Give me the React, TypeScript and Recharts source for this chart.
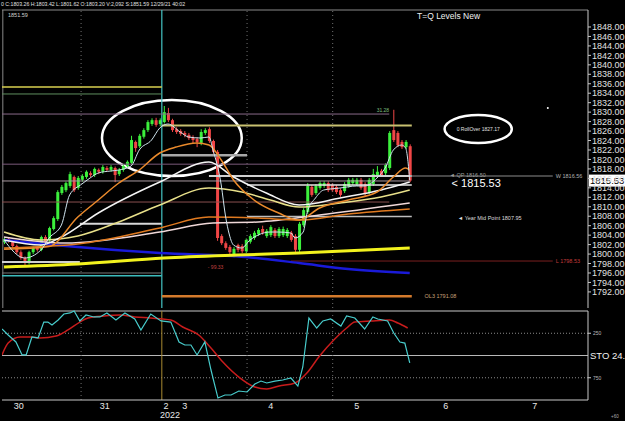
import React from 'react'
import {
  Bar,
  ComposedChart,
  Line,
  ReferenceArea,
  ReferenceDot,
  ReferenceLine,
  XAxis,
  YAxis,
} from 'recharts'

const FONT = '"Liberation Sans", Arial, sans-serif'
const GREEN = '#3cf03c'
const RED = '#f04646'

// x = hourly bar number, the empty right part is future time
const X_DOMAIN: [number, number] = [-0.5, 142.5]
const PRICE_DOMAIN: [number, number] = [1788.6, 1851.59]
const LAST_PRICE = 1815.53

const priceTicks = [
  1792, 1794, 1796, 1798, 1800, 1802, 1804, 1806, 1808, 1810, 1812, 1814, 1816, 1818, 1820,
  1822, 1824, 1826, 1828, 1830, 1832, 1834, 1836, 1838, 1840, 1842, 1844, 1846, 1848,
]
const dayTicks = [3.6, 24.6, 39.5, 44.1, 65.1, 86.1, 107.8, 129.5]
const dayLabels = ['30', '31', '2', '3', '4', '5', '6', '7']
const gridLines = [18.8, 59.3, 80.2]
const yearLine = 38.5

const opens = [
  1802.5, 1803.2, 1802.8, 1801.7, 1800.4, 1799.2, 1798.3, 1800.4, 1801.3, 1800.9,
  1803.6, 1802.9, 1805.3, 1807.4, 1812.9, 1813.5, 1814.4, 1816.3, 1814.0, 1815.7,
  1816.3, 1817.1, 1816.7, 1817.8, 1817.4, 1818.2, 1817.8, 1818.2, 1816.9, 1817.8,
  1818.6, 1819.3, 1823.7, 1822.8, 1824.8, 1826.2, 1827.5, 1828.3, 1827.5, 1827.9,
  1829.8, 1828.3, 1826.4, 1826.0, 1825.6, 1825.2, 1824.7, 1824.3, 1823.5, 1825.6,
  1826.4, 1823.9, 1821.6, 1803.8, 1802.3, 1801.5, 1800.0, 1801.9, 1801.7, 1800.6,
  1802.6, 1803.4, 1804.2, 1805.3, 1803.8, 1804.0, 1805.1, 1803.8, 1804.0, 1803.8,
  1804.5, 1803.8, 1800.9, 1806.1, 1808.9, 1814.2, 1812.9, 1814.0, 1814.4, 1815.0,
  1814.6, 1814.2, 1813.5, 1813.3, 1814.4, 1815.0, 1814.8, 1815.7, 1814.8, 1813.1,
  1814.8, 1816.5, 1817.6, 1817.1, 1818.2, 1826.2, 1825.6, 1823.7, 1822.6, 1822.8,
]
const highs = [
  1803.6, 1803.5, 1803.0, 1802.0, 1800.8, 1799.5, 1800.7, 1801.6, 1801.7, 1803.9,
  1804.0, 1805.8, 1808.0, 1813.5, 1814.6, 1815.3, 1817.4, 1816.6, 1816.5, 1816.9,
  1817.7, 1817.5, 1818.3, 1818.1, 1818.8, 1818.6, 1818.8, 1818.5, 1818.2, 1819.0,
  1819.8, 1825.0, 1824.0, 1825.4, 1826.6, 1828.3, 1828.7, 1828.8, 1828.7, 1831.3,
  1830.9, 1828.6, 1826.8, 1826.4, 1826.0, 1825.6, 1825.1, 1824.7, 1826.4, 1826.6,
  1826.8, 1824.2, 1822.0, 1804.2, 1802.7, 1801.9, 1801.5, 1802.2, 1802.1, 1803.3,
  1804.2, 1804.9, 1805.5, 1806.0, 1805.3, 1806.1, 1805.5, 1805.7, 1805.8, 1805.5,
  1804.9, 1804.2, 1806.8, 1809.7, 1815.0, 1814.6, 1814.8, 1815.4, 1815.4, 1815.4,
  1815.0, 1814.6, 1813.9, 1815.2, 1816.1, 1816.1, 1816.1, 1816.1, 1815.2, 1816.1,
  1818.0, 1818.6, 1818.0, 1819.2, 1826.0, 1830.5, 1826.0, 1824.1, 1824.1, 1823.2,
]
const lows = [
  1802.1, 1802.4, 1801.4, 1800.0, 1798.8, 1797.5, 1797.8, 1800.0, 1800.5, 1800.6,
  1802.2, 1802.5, 1805.0, 1807.0, 1812.5, 1813.1, 1814.0, 1813.1, 1813.6, 1815.3,
  1815.9, 1816.3, 1816.3, 1816.9, 1817.0, 1817.4, 1817.4, 1815.2, 1816.5, 1817.4,
  1818.2, 1819.0, 1821.6, 1822.4, 1824.4, 1825.8, 1827.1, 1826.9, 1827.0, 1827.6,
  1827.9, 1825.8, 1825.4, 1825.0, 1824.7, 1824.1, 1823.4, 1822.6, 1823.0, 1825.2,
  1823.5, 1821.2, 1802.8, 1801.9, 1800.9, 1799.8, 1799.33, 1800.4, 1800.2, 1800.2,
  1802.2, 1803.0, 1803.8, 1804.1, 1803.4, 1803.6, 1803.4, 1803.4, 1803.6, 1803.4,
  1802.6, 1800.0, 1800.4, 1805.7, 1808.5, 1812.1, 1812.5, 1813.6, 1814.0, 1813.1,
  1813.1, 1812.7, 1812.1, 1812.9, 1814.0, 1814.6, 1814.4, 1813.6, 1812.3, 1812.7,
  1814.4, 1816.1, 1816.3, 1816.7, 1817.8, 1823.7, 1822.6, 1822.2, 1822.2, 1815.2,
]
const closes = [
  1803.2, 1802.8, 1801.7, 1800.4, 1799.2, 1798.3, 1800.4, 1801.3, 1800.9, 1803.6,
  1802.6, 1805.5, 1807.6, 1813.1, 1814.2, 1815.0, 1816.9, 1813.5, 1816.1, 1816.5,
  1817.4, 1816.7, 1818.0, 1817.4, 1818.4, 1817.8, 1818.4, 1816.7, 1817.8, 1818.6,
  1819.5, 1824.1, 1822.4, 1825.0, 1826.2, 1827.9, 1828.3, 1827.3, 1828.3, 1830.0,
  1828.3, 1826.2, 1825.8, 1825.4, 1825.2, 1824.5, 1824.1, 1823.7, 1825.8, 1826.2,
  1823.9, 1821.6, 1803.4, 1802.3, 1801.3, 1800.4, 1801.1, 1800.9, 1800.6, 1803.0,
  1803.8, 1804.5, 1805.1, 1804.5, 1804.9, 1805.7, 1803.8, 1805.3, 1805.3, 1805.1,
  1803.0, 1800.9, 1806.4, 1809.3, 1814.4, 1812.5, 1814.4, 1815.0, 1815.0, 1813.5,
  1813.5, 1813.1, 1812.5, 1814.8, 1815.7, 1815.7, 1815.7, 1814.0, 1812.9, 1815.7,
  1816.9, 1817.4, 1816.7, 1818.8, 1825.6, 1824.1, 1823.0, 1822.6, 1823.7, 1815.53,
]

// moving averages: [bar, price]
const maFast: [number, number][] = [
  [0, 1802.97], [5, 1799.17], [9, 1800.86], [11, 1803.4], [14, 1806.14], [16, 1812.49],
  [19, 1814.81], [21, 1816.08], [23, 1817.14], [26, 1817.56], [28, 1817.77], [31, 1818.62],
  [33, 1822.0], [36, 1824.11], [38, 1826.65], [40, 1827.49], [43, 1825.8], [45, 1824.75],
  [48, 1824.53], [50, 1824.75], [51, 1822.0], [53, 1814.6], [54, 1808.26], [55, 1804.03],
  [56, 1801.91], [58, 1801.28], [60, 1802.97], [62, 1804.03], [65, 1804.66], [67, 1804.66],
  [70, 1804.45], [71, 1803.4], [73, 1804.66], [74, 1808.89], [76, 1811.85], [78, 1813.54],
  [82, 1813.96], [86, 1814.39], [88, 1814.39], [91, 1816.08], [93, 1818.19], [95, 1822.0],
  [97, 1823.05], [98, 1822.42], [99, 1815.6],
]
const maOrange: [number, number][] = [
  [0, 1801.0], [11, 1801.6], [18, 1807.83], [23, 1811.43], [28, 1815.02], [33, 1817.77],
  [38, 1821.36], [42, 1822.63], [47, 1823.48], [50, 1823.05], [53, 1819.88], [56, 1815.66],
  [61, 1811.43], [67, 1808.68], [72, 1807.2], [77, 1809.74], [84, 1811.43], [91, 1813.12],
  [95, 1816.29], [98, 1818.19], [99, 1817.77],
]
const maWhite: [number, number][] = [
  [0, 1802.97], [9, 1801.91], [14, 1803.61], [23, 1808.68], [38, 1815.23], [50, 1819.46],
  [56, 1816.29], [64, 1812.91], [72, 1810.37], [82, 1811.85], [92, 1813.54], [99, 1815.23],
]
const maPale: [number, number][] = [
  [0, 1804.66], [9, 1802.97], [18, 1803.82], [28, 1806.78], [38, 1810.37], [50, 1813.96],
  [58, 1813.12], [65, 1811.43], [72, 1809.95], [82, 1810.8], [92, 1812.06], [99, 1813.54],
]
const maOrangeSlow: [number, number][] = [
  [0, 1801.28], [18, 1802.13], [38, 1805.51], [50, 1807.83], [62, 1807.62], [72, 1807.2],
  [84, 1808.47], [99, 1809.53],
]
const maPink: [number, number][] = [
  [0, 1803.61], [15, 1802.34], [38, 1804.66], [51, 1806.56], [62, 1806.78], [77, 1808.26],
  [99, 1810.79],
]
const maYellow: [number, number][] = [
  [0, 1797.26], [18, 1797.9], [39, 1799.17], [57, 1799.8], [72, 1800.22], [99, 1801.28],
]
const maBlue: [number, number][] = [
  [0, 1802.97], [15, 1801.7], [38, 1800.22], [59, 1799.38], [72, 1798.11], [84, 1796.84],
  [99, 1795.99],
]

// drawn price levels: start bar, end bar, price
const levelStarts = [-0.5, -0.5, -0.5, 38.5, 38.5, -0.5, -0.5, 50, 99, 59.3, -0.5, 18.5, 59.3, -0.5, -0.5, -0.5, 38.5, 70]
const levelEnds = [38.5, 38.5, 94, 99.5, 59.3, 94, 99, 99.5, 133.9, 99.5, 94, 38.5, 99.5, 18.5, 38.5, 38.5, 99.5, 133.9]
const levelPrices = [
  1835.32, 1833.84, 1829.6, 1827.17, 1820.9, 1819.0, 1815.45, 1816.5, 1816.5, 1814.6, 1811.0,
  1806.4, 1807.95, 1798.3, 1796.0, 1795.4, 1791.08, 1798.53,
]
const levelTags = ['', '', '', '', '', '', '', '', 'W 1816.56', '', '', '', '', '', '', '', '', 'L 1798.53']

// stochastic, [bar, value]
const stoK: [number, number][] = [
  [-0.5, 20.2], [1, 27], [2.9, 34.8], [4.4, 49.4], [5.4, 49.4], [6.8, 29.2], [8.3, 30.3],
  [9.7, 12.4], [10.7, 12.4], [11.7, 15.7], [13.2, 10.1], [14.6, 3.4], [16.1, 2.2], [17.1, 0],
  [18.5, 11.2], [20, 4.5], [21.9, 6.7], [23.4, 6.7], [25.1, 2.2], [27.3, 10.1], [29.5, 2.2],
  [31.9, 9], [33.4, 21.3], [35.8, 3.4], [38.3, 11.2], [40.7, 12.4], [42.7, 34.8], [44.1, 38.2],
  [45.6, 38.2], [47.1, 49.4], [49, 34.8], [50.5, 66.3], [52.2, 97.8], [53.9, 94.4], [55.4, 94.4],
  [57.3, 89.9], [59.3, 91], [61.2, 82], [62.7, 78.7], [64.1, 80.9], [66.1, 78.7], [68, 77.5],
  [70, 75.3], [71.7, 84.3], [72.9, 62.9], [74.4, 7.9], [76.3, 19.1], [77.8, 11.2], [79.7, 9],
  [82.2, 16.9], [83.6, 5.6], [85.6, 7.9], [88, 20.2], [90, 6.7], [91.2, 9], [93.6, 11.2],
  [95.1, 24.7], [96.6, 34.8], [97.8, 36], [99, 58.4],
]
const stoD: [number, number][] = [
  [-0.5, 49.4], [1, 36], [3.9, 29.2], [6.3, 29.2], [8.8, 30.3], [12.7, 28.1], [15.6, 21.3],
  [18.5, 12.4], [20.5, 7.9], [24.4, 5.6], [28.3, 4.5], [31.9, 6.7], [35.8, 7.9], [40.7, 10.1],
  [43.6, 18], [47.5, 27], [50.5, 41.6], [53.4, 57.3], [57.3, 74.2], [61.2, 85.4], [64.1, 87.6],
  [67.1, 84.3], [71, 80.9], [73.9, 69.7], [76.8, 51.7], [80.7, 31.5], [83.6, 19.1], [85.6, 12.4],
  [89.5, 11.2], [94.1, 10.1], [96.1, 13.5], [98.5, 19.1],
]
const stoTicks = [25, 75]
const stoTickLabels = ['250', '750']

const LEVEL_STYLE: [string, number][] = [
  ['#d8d050', 1.5], ['#5f8f5f', 1], ['#8a6a8a', 1], ['#c8c070', 2], ['#a8a8a8', 2.5],
  ['#7a5a7a', 1], ['#a89aa0', 1], ['#d0d0d0', 2], ['#8c8c8c', 1], ['#e6e6e6', 1.5],
  ['#8a5050', 1], ['#d8d8d8', 2], ['#bdbdbd', 1.5], ['#d0d0d0', 2], ['#777777', 1],
  ['#3cbcbc', 1.5], ['#d47a2c', 2.5], ['#7a2020', 1],
]

const toPts = (arr: [number, number][]) => arr.map(([i, v]) => ({ i, v }))

const candles = closes.map((c, i) => ({
  i,
  o: opens[i],
  h: highs[i],
  l: lows[i],
  c,
  range: [lows[i], highs[i]],
}))

function Candle(props: any) {
  const { x, y, width, height, payload } = props
  if (x == null || !payload) return null
  const { o, h, l, c } = payload
  const span = h - l || 1
  const py = (p: number) => y + ((h - p) / span) * height
  const color = c >= o ? GREEN : RED
  const mid = x + width / 2
  const top = py(Math.max(o, c))
  const bot = py(Math.min(o, c))
  return (
    <g>
      <line x1={mid} x2={mid} y1={py(h)} y2={py(l)} stroke={color} strokeWidth={1} />
      <rect x={x} y={top} width={width} height={Math.max(1, bot - top)} fill={color} />
    </g>
  )
}

function Ellipse(props: any) {
  const { x, y, width, height } = props
  return (
    <ellipse
      cx={x + width / 2}
      cy={y + height / 2}
      rx={width / 2}
      ry={height / 2}
      fill="none"
      stroke="#ffffff"
      strokeWidth={2.5}
    />
  )
}

function PriceTag({ viewBox }: any) {
  if (!viewBox) return null
  const x = viewBox.x + viewBox.width + 1
  const y = viewBox.y
  return (
    <g>
      <rect x={x} y={y - 6} width={40} height={12} fill="#ffffff" />
      <text x={x + 1} y={y} dy="0.35em" fontSize={9.5} fill="#000" fontFamily={FONT}>
        {LAST_PRICE.toFixed(2)}
      </text>
    </g>
  )
}

function DayTick({ x, y, payload }: any) {
  const k = dayTicks.indexOf(payload.value)
  const label = dayLabels[k] ?? ''
  return (
    <g fontFamily={FONT} fontSize={9} fill="#e8e8e8">
      <text x={x} y={y} dy="0.71em" textAnchor="middle">
        {label}
      </text>
      {label === '2' && (
        <text x={x - 6} y={y + 9} dy="0.71em" textAnchor="start">
          2022
        </text>
      )}
    </g>
  )
}

function textDot(i: number, p: number, value: string, fill: string, fontSize: number) {
  return (
    <ReferenceDot
      key={value}
      x={i}
      y={p}
      r={0}
      fill="none"
      stroke="none"
      ifOverflow="visible"
      label={{ value, position: 'right', fill, fontSize, fontFamily: FONT }}
    />
  )
}

export default function App() {
  const maLines: [string, [number, number][], string, number][] = [
    ['blue', maBlue, '#1a1ad8', 2.5],
    ['yellow', maYellow, '#f2f21e', 3],
    ['pink', maPink, '#f0d8d8', 1.5],
    ['orangeSlow', maOrangeSlow, '#e07a20', 1.5],
    ['pale', maPale, '#e8e08a', 1.5],
    ['white', maWhite, '#f4f4f4', 1.5],
    ['orange', maOrange, '#ea8a2c', 1.5],
  ]
  return (
    <div
      style={{
        position: 'fixed',
        left: 0,
        top: 0,
        width: 625,
        height: 421,
        background: '#000',
        overflow: 'hidden',
        fontFamily: FONT,
      }}
    >
      <div style={{ position: 'absolute', left: 1, top: 1, fontSize: 5.2, color: '#e0e0e0', whiteSpace: 'nowrap' }}>
        0 C:1803.26 H:1803.42 L:1801.62 O:1803.20 V:2,092 S:1851.59 12/29/21 40:02
      </div>
      <div style={{ position: 'absolute', left: 8, top: 12, fontSize: 5.5, color: '#d0d0d0' }}>1851.59</div>
      <div style={{ position: 'absolute', left: 417, top: 11, fontSize: 8.5, color: '#f0f0f0', whiteSpace: 'nowrap' }}>
        T=Q Levels New
      </div>

      <div style={{ position: 'absolute', left: 0, top: 0 }}>
        <ComposedChart width={625} height={310} data={candles} margin={{ top: 10, right: 0, bottom: 2, left: 2 }}>
          <XAxis dataKey="i" type="number" domain={X_DOMAIN} allowDataOverflow hide />
          <YAxis
            orientation="right"
            width={37}
            domain={PRICE_DOMAIN}
            allowDataOverflow
            ticks={priceTicks}
            interval={0}
            tickFormatter={(v: number) => v.toFixed(2)}
            tick={{ fill: '#e0e0e0', fontSize: 9, fontFamily: FONT }}
            tickSize={3}
            tickMargin={1}
            stroke="#c8c8c8"
          />
          <ReferenceLine y={PRICE_DOMAIN[1]} stroke="#8a8a8a" ifOverflow="visible" />
          <ReferenceLine x={-0.3} stroke="#888" />
          {gridLines.map((g) => (
            <ReferenceLine key={g} x={g} stroke="#707070" strokeDasharray="1 3" />
          ))}
          <ReferenceLine x={yearLine} stroke="#44c4c4" strokeWidth={1.2} />
          {levelPrices.map((p, k) => (
            <ReferenceLine
              key={'lv' + k}
              segment={[
                { x: levelStarts[k], y: p },
                { x: levelEnds[k], y: p },
              ]}
              stroke={LEVEL_STYLE[k][0]}
              strokeWidth={LEVEL_STYLE[k][1]}
              label={
                levelTags[k]
                  ? { value: levelTags[k], position: 'right', fill: LEVEL_STYLE[k][0] === '#7a2020' ? '#c03a3a' : '#b0b0b0', fontSize: 5.5, fontFamily: FONT, offset: 3 }
                  : undefined
              }
            />
          ))}
          {maLines.map(([name, pts, color, w]) => (
            <Line
              key={name}
              data={toPts(pts)}
              dataKey="v"
              type="monotone"
              stroke={color}
              strokeWidth={w}
              dot={false}
              isAnimationActive={false}
            />
          ))}
          <Bar dataKey="range" barSize={3} shape={<Candle />} isAnimationActive={false} />
          <Line
            data={toPts(maFast)}
            dataKey="v"
            type="monotone"
            stroke="#cfe4ee"
            strokeWidth={1}
            dot={false}
            isAnimationActive={false}
          />
          <ReferenceArea x1={23.9} x2={58} y1={1816.5} y2={1832.57} shape={<Ellipse />} />
          <ReferenceArea
            x1={107.5}
            x2={123.9}
            y1={1823.48}
            y2={1829.4}
            shape={<Ellipse />}
            label={{ value: '0 RollOver 1827.17', position: 'center', fill: '#e0e0e0', fontSize: 5, fontFamily: FONT }}
          />
          <ReferenceDot x={132.7} y={1830.88} r={1} fill="#ffffff" stroke="none" />
          {textDot(107.5, 1816.6, '◄ QP 1816.50', '#9a9a9a', 5.5)}
          {textDot(108, 1814.9, '< 1815.53', '#ffffff', 11)}
          {textDot(109.5, 1807.7, '◄ Year Mid Point 1807.95', '#dddddd', 5.5)}
          {textDot(101.4, 1791.08, 'OL3 1791.08', '#c8a078', 5.5)}
          {textDot(89.7, 1830.45, '31.28', '#7fbf7f', 5)}
          {textDot(48.5, 1797.26, '- 99.33', '#c04040', 5)}
          <ReferenceLine y={LAST_PRICE} stroke="none" ifOverflow="visible" label={<PriceTag />} />
        </ComposedChart>
      </div>

      <div style={{ position: 'absolute', left: 0, top: 310 }}>
        <ComposedChart width={625} height={111} margin={{ top: 1, right: 0, bottom: 0, left: 2 }}>
          <XAxis
            dataKey="i"
            type="number"
            domain={X_DOMAIN}
            allowDataOverflow
            ticks={dayTicks}
            interval={0}
            height={21}
            tickLine={false}
            tickSize={2}
            tickMargin={1}
            tick={<DayTick />}
            stroke="#c8c8c8"
          />
          <YAxis
            orientation="right"
            width={37}
            domain={[0, 100]}
            reversed
            ticks={stoTicks}
            interval={0}
            tickFormatter={(v: number) => stoTickLabels[stoTicks.indexOf(v)] ?? ''}
            tick={{ fill: '#bbbbbb', fontSize: 5, fontFamily: FONT }}
            tickSize={3}
            tickMargin={2}
            stroke="#c8c8c8"
          />
          <ReferenceLine y={0} stroke="#c8c8c8" ifOverflow="visible" />
          {stoTicks.map((t) => (
            <ReferenceLine key={t} y={t} stroke="#8a8a8a" strokeDasharray="1 2" />
          ))}
          <ReferenceLine
            y={50}
            stroke="#b8b8b8"
            label={{ value: 'STO 24.57', position: 'right', fill: '#f0f0f0', fontSize: 9.5, fontFamily: FONT, offset: 2 }}
          />
          {gridLines.map((g) => (
            <ReferenceLine key={g} x={g} stroke="#707070" strokeDasharray="1 3" />
          ))}
          <ReferenceLine x={yearLine} stroke="#a88a30" />
          <Line
            data={toPts(stoD)}
            dataKey="v"
            type="monotone"
            stroke="#c81c1c"
            strokeWidth={1.5}
            dot={false}
            isAnimationActive={false}
          />
          <Line
            data={toPts(stoK)}
            dataKey="v"
            type="linear"
            stroke="#48cccc"
            strokeWidth={1.2}
            dot={false}
            isAnimationActive={false}
          />
        </ComposedChart>
      </div>
      <div style={{ position: 'absolute', left: 611, top: 414, fontSize: 4.5, color: '#aaa' }}>+60</div>
    </div>
  )
}
